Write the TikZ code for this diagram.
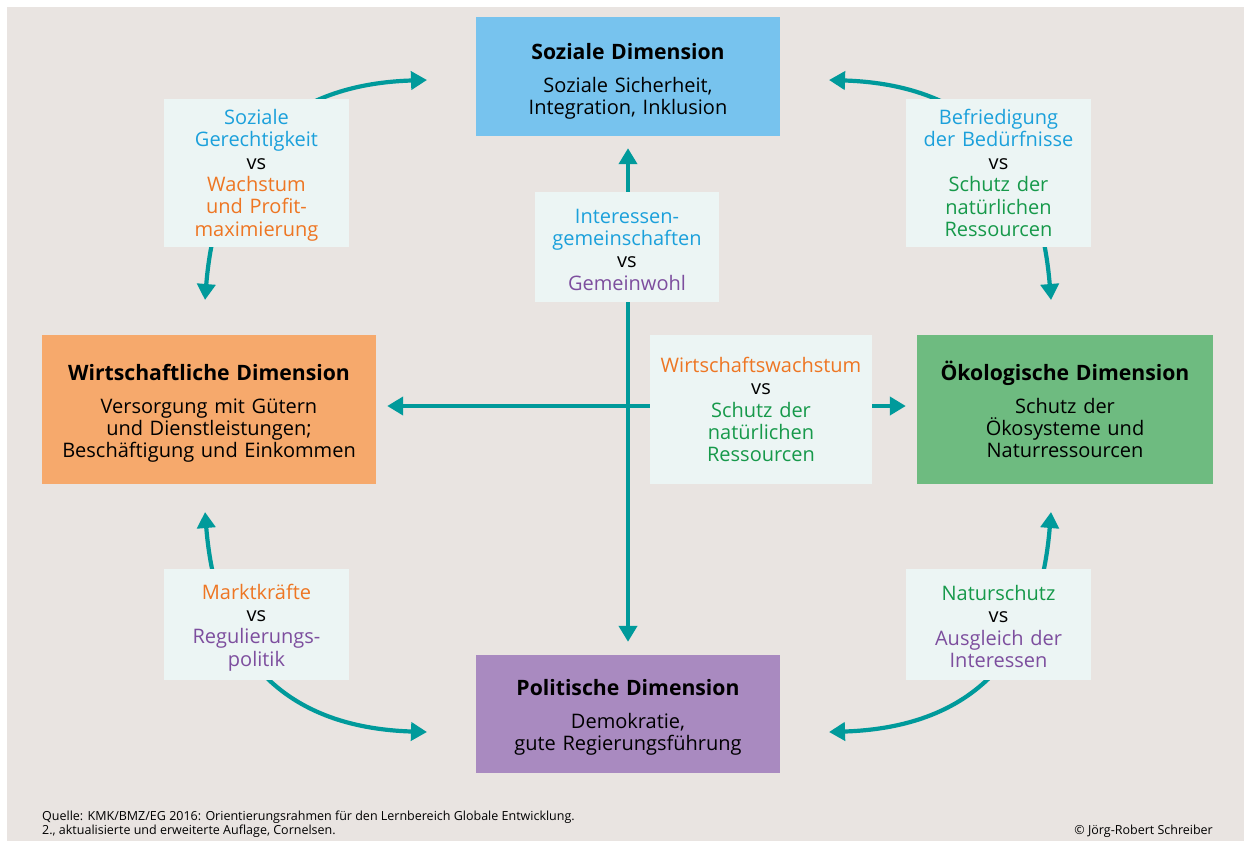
\documentclass[tikz,border=0pt]{standalone}
\usepackage{fontspec}
\setmainfont{Open Sans}
\usetikzlibrary{arrows.meta}
\definecolor{bg}{HTML}{E9E4E1}
\definecolor{lblbg}{HTML}{ECF5F4}
\definecolor{sozc}{HTML}{77C3EE}
\definecolor{wirc}{HTML}{F6A96C}
\definecolor{oekc}{HTML}{6EBB80}
\definecolor{polc}{HTML}{A98AC0}
\definecolor{arrc}{HTML}{009A9B}
\definecolor{tblue}{HTML}{1BA0DB}
\definecolor{torange}{HTML}{EE7623}
\definecolor{tgreen}{HTML}{16994A}
\definecolor{tpurple}{HTML}{7D4E9E}
\newcommand{\dimtitle}[1]{{\fontsize{21.2}{22}\selectfont\bfseries #1}}
\newcommand{\topstrut}[1]{\rule{0pt}{#1}}
\begin{document}
\begin{tikzpicture}[x=1pt,y=-1pt,
  dimbox/.style={inner sep=0pt,align=center,font=\fontsize{20}{22}\selectfont},
  lblbox/.style={fill=lblbg,inner sep=0pt,align=center,text width=185pt,font=\fontsize{20}{22.4}\selectfont},
  arr/.style={draw=arrc,line width=4.2pt,{Triangle[width=18pt,length=16pt]}-{Triangle[width=18pt,length=16pt]}},
  foot/.style={inner sep=0pt,font=\fontsize{12.5}{14}\selectfont}]
\useasboundingbox (0,0) rectangle (1244,841);
\fill[bg] (7,7) rectangle (1244,841);
% dimension boxes
\node[dimbox,fill=sozc,text width=304pt,minimum height=119pt] (soz) at (628,76.5)
  {\topstrut{25pt}\dimtitle{Soziale Dimension}\\[11pt]Soziale Sicherheit,\\Integration, Inklusion};
\node[dimbox,fill=wirc,text width=334pt,minimum height=149pt] (wirt) at (209,409.5)
  {\topstrut{23pt}\dimtitle{Wirtschaftliche Dimension}\\[11pt]Versorgung mit Gütern\\und Dienstleistungen;\\Beschäftigung und Einkommen};
\node[dimbox,fill=oekc,text width=296pt,minimum height=149pt] (oeko) at (1065,409.5)
  {\dimtitle{Ökologische Dimension}\\[11pt]Schutz der\\Ökosysteme und\\Naturressourcen};
\node[dimbox,fill=polc,text width=304pt,minimum height=118pt] (pol) at (628,714)
  {\topstrut{23pt}\dimtitle{Politische Dimension}\\[11pt]Demokratie,\\gute Regierungsführung};
% straight arrows
\draw[arr,shorten <=12pt,shorten >=13pt] (soz.south) -- (pol.north);
\draw[arr,shorten <=11pt,shorten >=11pt] ([yshift=3.5pt]wirt.east) -- ([yshift=3.5pt]oeko.west);
% curved arrows
\coordinate (tlA) at (205,300); \coordinate (tlB) at (427,80);
\coordinate (trA) at (1051,300); \coordinate (trB) at (829,80);
\coordinate (blA) at (205,512); \coordinate (blB) at (427,732);
\coordinate (brA) at (1051,512); \coordinate (brB) at (829,732);
\draw[arr] (tlA) .. controls (218,140) and (300,84) .. (tlB);
\draw[arr] (trA) .. controls (1038,140) and (956,84) .. (trB);
\draw[arr] (blA) .. controls (218,672) and (300,728) .. (blB);
\draw[arr] (brA) .. controls (1038,672) and (956,728) .. (brB);
% label boxes
\node[lblbox,minimum height=148pt] (ltl) at (256.5,173)
  {\topstrut{19.5pt}\textcolor{tblue}{Soziale\\Gerechtigkeit}\\vs\\\textcolor{torange}{Wachstum\\und Profit-\\maximierung}};
\node[lblbox,minimum height=148pt] (ltr) at (998.5,173)
  {\textcolor{tblue}{Befriedigung\\der Bedürfnisse}\\vs\\\textcolor{tgreen}{Schutz der\\natürlichen\\Ressourcen}};
\node[lblbox,minimum height=111pt] (lbl) at (256.5,624.5)
  {\topstrut{21pt}\textcolor{torange}{Marktkräfte}\\vs\\\textcolor{tpurple}{Regulierungs-\\politik}};
\node[lblbox,minimum height=111pt] (lbr) at (998.5,624.5)
  {\topstrut{19.5pt}\textcolor{tgreen}{Naturschutz}\\vs\\\textcolor{tpurple}{Ausgleich der\\Interessen}};
\node[lblbox,text width=184pt,minimum height=110pt] (lct) at (627,247)
  {\topstrut{19.5pt}\textcolor{tblue}{Interessen-\\gemeinschaften}\\vs\\\textcolor{tpurple}{Gemeinwohl}};
\node[lblbox,text width=222pt,minimum height=149pt] (lcr) at (761,409.5)
  {\textcolor{torange}{Wirtschaftswachstum}\\vs\\\textcolor{tgreen}{Schutz der\\natürlichen\\Ressourcen}};
% footer
\node[foot,anchor=base west,align=left] (src) at (42,834)
  {Quelle: KMK/BMZ/EG 2016: Orientierungsrahmen für den Lernbereich Globale Entwicklung.\\2., aktualisierte und erweiterte Auflage, Cornelsen.};
\node[foot,anchor=base east] (copy) at (1213,834) {© Jörg-Robert Schreiber};
\end{tikzpicture}
\end{document}
